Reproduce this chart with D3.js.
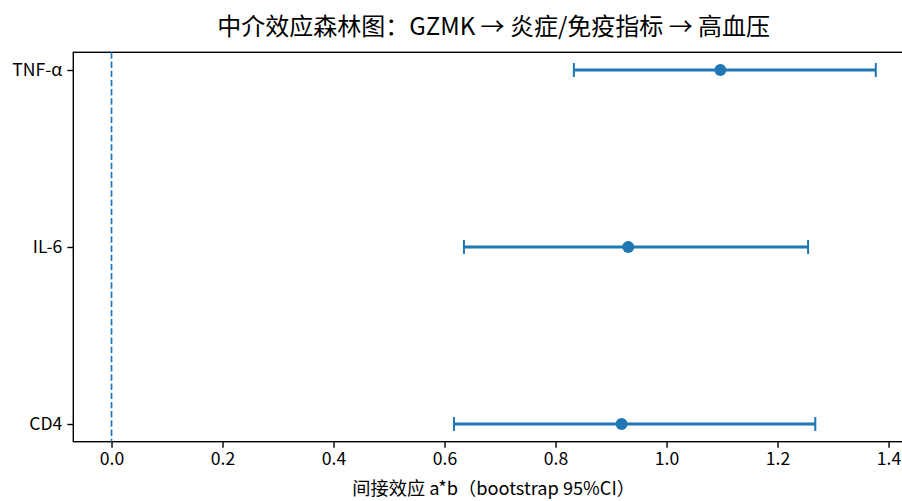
<!DOCTYPE html>
<html>
<head>
<meta charset="utf-8">
<script src="https://cdn.jsdelivr.net/npm/d3@7"></script>
<style>
  body { margin: 0; background: #fff; }
  svg { display: block; font-family: "Noto Sans CJK SC", "Noto Sans", sans-serif; }
</style>
</head>
<body>
<div id="chart"></div>
<script>
// mediators, bottom to top (matplotlib order)
let mediators = ['CD4', 'IL-6', 'TNF-α'];
let effect = [0.919, 0.931, 1.097];
let ciLow = [0.617, 0.635, 0.833];
let ciHigh = [1.268, 1.255, 1.377];
let xTicks = [0.0, 0.2, 0.4, 0.6, 0.8, 1.0, 1.2, 1.4];

let width = 902, height = 501;
let axLeft = 73.3, axTop = 52.3, axBottom = 441.7, axRight = 914;
let color = '#1f77b4';

let svg = d3.select('#chart').append('svg')
    .attr('width', width)
    .attr('height', height);

// x limits like matplotlib autoscale (include 0 line, 5% margins)
let lo = Math.min(0, d3.min(ciLow)), hi = Math.max(0, d3.max(ciHigh));
let pad = (hi - lo) * 0.05;
let x = d3.scaleLinear().domain([lo - pad, hi + pad]).range([axLeft, axRight]);
let y = d3.scaleLinear().domain([-0.1, mediators.length - 1 + 0.1]).range([axBottom, axTop]);

let rows = mediators.map((m, i) => ({name: m, i: i, est: effect[i], lo: ciLow[i], hi: ciHigh[i]}));

// axes
let xAxis = svg.append('g')
    .attr('transform', `translate(0,${axBottom})`)
    .call(d3.axisBottom(x).tickValues(xTicks).tickFormat(d3.format('.1f')).tickSize(6).tickPadding(5));
let yAxis = svg.append('g')
    .attr('transform', `translate(${axLeft},0)`)
    .call(d3.axisLeft(y).tickValues(rows.map(d => d.i)).tickFormat(i => mediators[i]).tickSize(6).tickPadding(5));

[xAxis, yAxis].forEach(a => {
    a.select('.domain').remove();
    a.selectAll('.tick line').attr('stroke', '#000').attr('stroke-width', 1.4);
    a.selectAll('.tick text').attr('fill', '#000').style('font-size', '17.6px')
        .style('font-family', '"Noto Sans CJK SC", sans-serif');
});
yAxis.selectAll('.tick text').attr('dy', '0.34em');

// spines (right spine falls outside the picture)
svg.append('rect')
    .attr('x', axLeft).attr('y', axTop)
    .attr('width', axRight - axLeft).attr('height', axBottom - axTop)
    .attr('stroke', '#000').attr('stroke-width', 1.4).attr('fill', 'none');

// zero reference line
svg.append('line')
    .attr('x1', x(0)).attr('x2', x(0))
    .attr('y1', axTop).attr('y2', axBottom)
    .attr('stroke', color)
    .attr('stroke-width', 1.7)
    .attr('stroke-dasharray', '6.4,2.8');

// error bars
let bars = svg.append('g').selectAll('g')
    .data(rows)
    .enter().append('g');

bars.append('line')
    .attr('x1', d => x(d.lo)).attr('x2', d => x(d.hi))
    .attr('y1', d => y(d.i)).attr('y2', d => y(d.i))
    .attr('stroke', color).attr('stroke-width', 3);

bars.selectAll('.cap')
    .data(d => [{v: d.lo, i: d.i}, {v: d.hi, i: d.i}])
    .enter().append('line')
    .attr('class', 'cap')
    .attr('x1', d => x(d.v)).attr('x2', d => x(d.v))
    .attr('y1', d => y(d.i) - 7).attr('y2', d => y(d.i) + 7)
    .attr('stroke', color).attr('stroke-width', 2);

bars.append('circle')
    .attr('cx', d => x(d.est)).attr('cy', d => y(d.i))
    .attr('r', 6)
    .attr('fill', color);

// title and axis label
svg.append('text')
    .attr('x', (axLeft + axRight) / 2).attr('y', 24)
    .attr('text-anchor', 'middle')
    .attr('dominant-baseline', 'central')
    .style('font-size', '24px')
    .text('中介效应森林图：GZMK → 炎症/免疫指标 → 高血压');

svg.append('text')
    .attr('x', (axLeft + axRight) / 2).attr('y', 487)
    .attr('text-anchor', 'middle')
    .attr('dominant-baseline', 'central')
    .style('font-size', '18.2px')
    .text('间接效应 a*b（bootstrap 95%CI）');
</script>
</body>
</html>
